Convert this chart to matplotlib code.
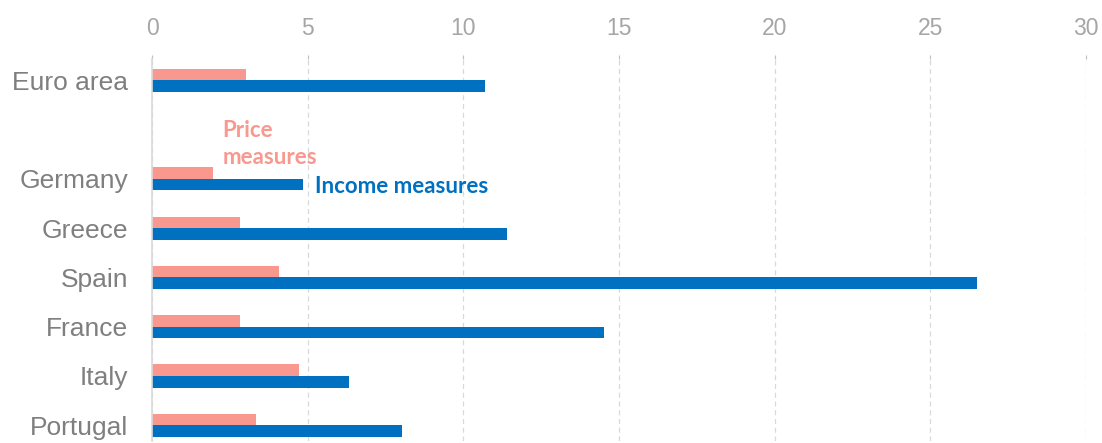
import matplotlib.pyplot as plt
import numpy as np

categories = ["Euro area", "", "Germany", "Greece", "Spain", "France", "Italy", "Portugal"]
price_measures = [3.02, np.nan, 1.95, 2.81, 4.09, 2.83, 4.72, 3.34]
income_measures = [10.68, np.nan, 4.84, 11.39, 26.49, 14.52, 6.34, 8.02]
x_ticks = [0, 5, 10, 15, 20, 25, 30]

price_color = "#F8988E"
income_color = "#0070C0"

fig = plt.figure(figsize=(11.02, 4.43), dpi=100)
ax = fig.add_axes([0.138, 0.0045, 0.8475, 0.862])

y = np.arange(len(categories))
h = 0.235
ax.barh(y - h / 2, price_measures, height=h, color=price_color, zorder=3)
ax.barh(y + h / 2, income_measures, height=h, color=income_color, zorder=3)

ax.set_xlim(0, 30)
ax.set_ylim(7.32, -0.43)
ax.set_xticks(x_ticks)
ax.xaxis.tick_top()
ax.tick_params(axis="x", colors="#BFBFBF", labelcolor="#A6A6A6", labelsize=16.5,
               length=3, width=0.8, pad=11)
ax.set_yticks(y)
ax.set_yticklabels(categories, fontsize=19, color="#7F7F7F")
ax.tick_params(axis="y", length=0, pad=17)
for lbl in ax.get_xticklabels() + ax.get_yticklabels():
    lbl.set_fontfamily("Liberation Sans")

ax.grid(axis="x", color="#D9D9D9", linestyle=(0, (4, 3)), linewidth=0.9, zorder=0)
for s in ["top", "right", "bottom"]:
    ax.spines[s].set_visible(False)
ax.spines["left"].set_color("#D9D9D9")
ax.spines["left"].set_linewidth(1.2)
ax.spines["left"].set_zorder(4)

note_style = dict(fontsize=16, fontweight="bold", family="Lato", ha="left", va="baseline")
ax.text(2.27, 1.156, "Price", color=price_color, **note_style)
ax.text(2.27, 1.70, "measures", color=price_color, **note_style)
ax.text(5.24, 2.29, "Income measures", color=income_color, **note_style)

fig.savefig("out.png", dpi=100)
